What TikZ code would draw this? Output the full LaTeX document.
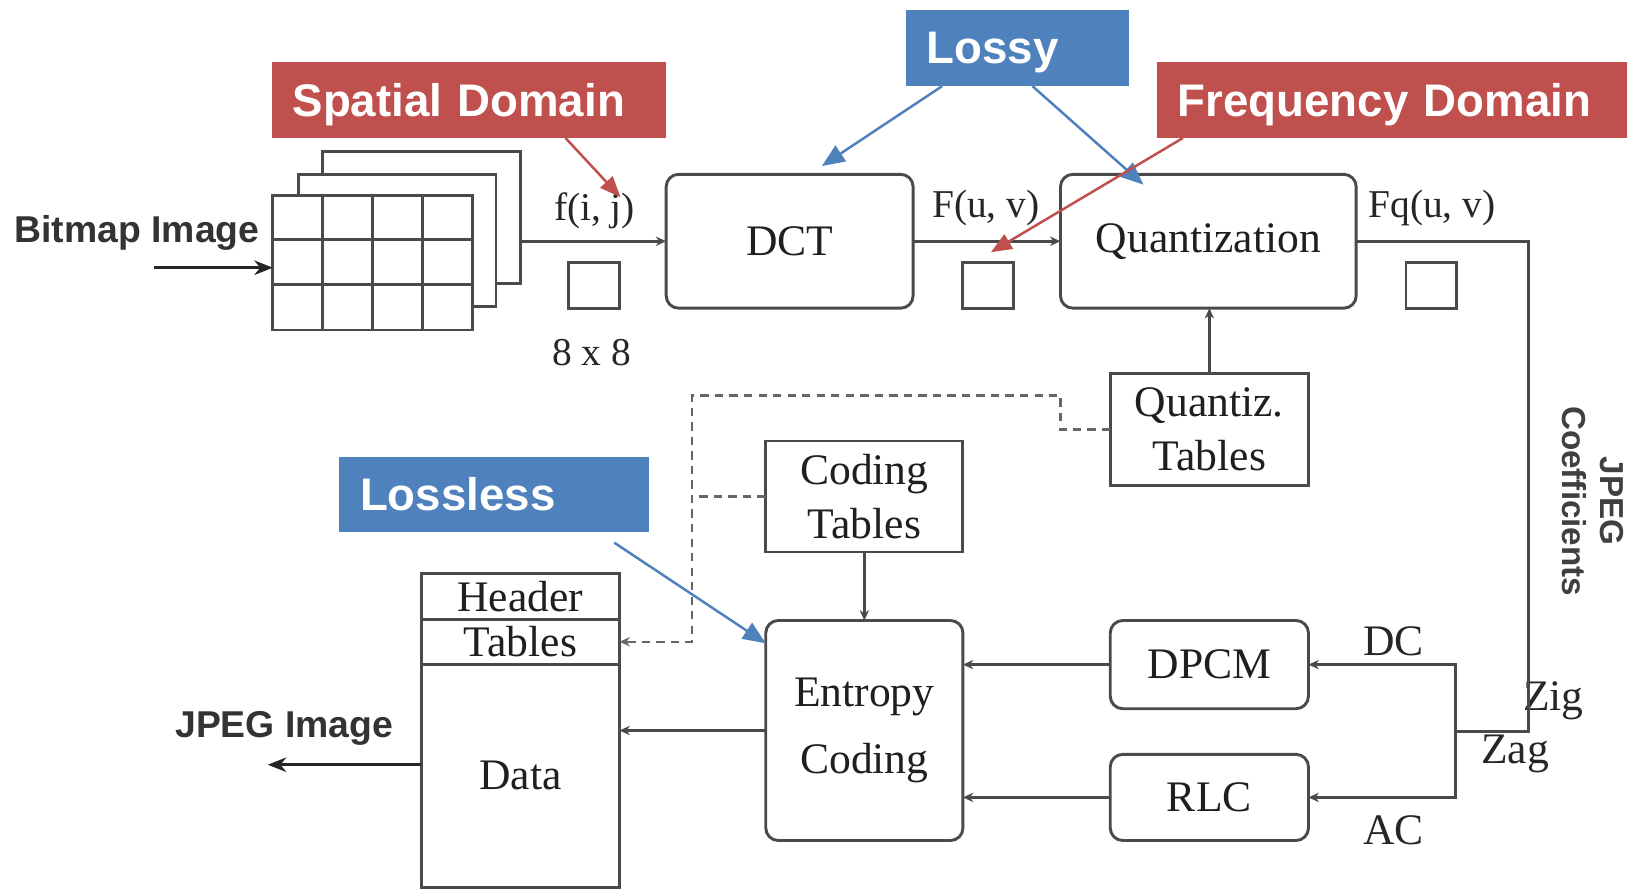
\documentclass[tikz,border=0pt]{standalone}
\usepackage{fontspec}
\setmainfont{Liberation Serif}
\newfontfamily\arialf{Liberation Sans}
\usetikzlibrary{arrows.meta,calc}
\definecolor{calred}{HTML}{C0504D}
\definecolor{calblue}{HTML}{4F81BD}
\definecolor{lin}{HTML}{4A4A4A}
\begin{document}
\begin{tikzpicture}[x=0.5pt,y=-0.5pt,
  every node/.style={inner sep=0pt, outer sep=0pt},
  blk/.style={draw=lin, line width=1.4pt, fill=white, font=\fontsize{21}{26}\selectfont, align=center, text=black!88},
  rblk/.style={blk, rounded corners=6pt},
  lbl/.style={font=\fontsize{19}{21}\selectfont, text=black!85},
  conn/.style={draw=lin, line width=1.4pt, -{Stealth[length=5pt,width=4.5pt]}},
  plain/.style={draw=lin, line width=1.4pt},
  bigarr/.style={draw=black!85, line width=1.3pt, -{Stealth[length=9pt,width=7pt]}},
  dsh/.style={draw=black!60, line width=1.2pt, dash pattern=on 4pt off 3pt},
  callout/.style={font=\arialf\bfseries\fontsize{22}{24}\selectfont, text=white, align=left, minimum height=36.5pt, inner xsep=10pt, text depth=0pt},
  redc/.style={callout, fill=calred},
  bluec/.style={callout, fill=calblue},
  redarr/.style={draw=calred, line width=1.2pt, -{Triangle[length=10pt,width=8pt]}},
  bluearr/.style={draw=calblue, line width=1.2pt, -{Triangle[length=11pt,width=9pt]}},
  sans/.style={font=\arialf\bfseries\fontsize{18}{20}\selectfont, text=black!80}
  ]
\useasboundingbox (0,0) rectangle (1568,857);

% image stack
\node[blk, minimum width=95.5pt, minimum height=63.5pt] (f3) at (406.5,209.5) {};
\node[blk, minimum width=95pt, minimum height=63.5pt] (f2) at (383,231.5) {};
\node[blk, minimum width=96pt, minimum height=65pt] (grid) at (359,253) {};
\foreach \x in {311,359,407} \draw[plain] (\x,188) -- (\x,318);
\foreach \y in {231,274} \draw[plain] (263,\y) -- (455,\y);

\node[sans, anchor=west] (bmp) at (14,224) {Bitmap Image};
\coordinate (bin) at (148,258);
\draw[bigarr] (bin) -- (bin -| grid.west);

% main blocks
\node[rblk, minimum width=119pt, minimum height=64.5pt] (dct) at (761,232.5) {DCT};
\node[rblk, minimum width=142.5pt, minimum height=64.5pt] (quant) at (1164.5,232.5) {Quantization};
\node[blk, minimum width=95.5pt, minimum height=54pt] (qtab) at (1165.5,414) {Quantiz.\\Tables};
\node[blk, minimum width=95pt, minimum height=53.5pt] (ctab) at (833,478.5) {Coding\\Tables};
\node[rblk, minimum width=95pt, minimum height=106pt, font=\fontsize{21}{32.5}\selectfont] (ent) at (833,704) {Entropy\\Coding};
\node[rblk, minimum width=95.5pt, minimum height=42.5pt] (dpcm) at (1165.5,640.5) {DPCM};
\node[rblk, minimum width=95.5pt, minimum height=41.5pt] (rlc) at (1165.5,768.5) {RLC};

% file
\node[blk, minimum width=95.5pt, minimum height=22pt] (hdr) at (501.5,575) {Header};
\node[blk, minimum width=95.5pt, minimum height=21.5pt] (tbl) at (501.5,618.5) {Tables};
\node[blk, minimum width=95.5pt, minimum height=107.5pt] (data) at (501.5,747.5) {Data};

% small squares
\node[blk, minimum width=24.5pt, minimum height=22pt] (sq1) at (572.5,275) {};
\node[blk, minimum width=24.5pt, minimum height=22pt] (sq2) at (952.5,275) {};
\node[blk, minimum width=24.5pt, minimum height=22pt] (sq3) at (1379.5,275) {};

% labels
\node[lbl] (fij) at (573,203) {f(i, j)};
\node[lbl] (n88) at (570,340) {8 x 8};
\node[lbl] (fuv) at (950,200) {F(u, v)};
\node[lbl] (fquv) at (1380,200) {Fq(u, v)};
\node[lbl, font=\fontsize{21}{23}\selectfont] (dc) at (1343,618) {DC};
\node[lbl, font=\fontsize{21}{23}\selectfont] (ac) at (1343,800) {AC};
\node[lbl, font=\fontsize{21}{23}\selectfont] (zig) at (1497,675) {Zig};
\node[lbl, font=\fontsize{21}{23}\selectfont] (zag) at (1460,727) {Zag};
\node[font=\arialf\bfseries\fontsize{16}{18}\selectfont, text=black!75, rotate=-90, align=center] (jc) at (1535,483) {JPEG\\Coefficients};
\node[sans] (jpgi) at (274,702) {JPEG Image};

% connectors
\draw[conn] (dct.west -| f3.east) -- (dct.west);
\draw[conn] (dct.east) -- (quant.west);
\coordinate (zz) at (1473,705);
\coordinate (jn) at (1403,705);
\draw[plain] (quant.east) -| (zz) -- (jn);
\draw[conn] (jn) |- (dpcm.east);
\draw[conn] (jn) |- (rlc.east);
\draw[conn] (qtab.north) -- (qtab.north |- quant.south);
\draw[conn] (ctab.south) -- (ent.north);
\draw[conn] (dpcm.west) -- (dpcm.west -| ent.east);
\draw[conn] (rlc.west) -- (rlc.west -| ent.east);
\draw[conn] (ent.west) -- (ent.west -| data.east);
\coordinate (jout) at (258,737);
\draw[bigarr] (data.west |- jout) -- (jout);

\coordinate (dA) at (1022,381);
\coordinate (dB) at (667,381);
\draw[dsh, -{Stealth[length=5pt,width=4.5pt]}] (qtab.west) -| (dA) -- (dB) |- (tbl.east);
\draw[dsh] (ctab.west) -- (ctab.west -| dB);

% callouts
\node[redc, text width=170pt] (spat) at (452,96.5) {Spatial Domain};
\node[redc, text width=206.5pt] (freq) at (1341.5,96.5) {Frequency Domain};
\node[bluec, text width=87.5pt] (lossy) at (980.5,46.5) {Lossy};
\node[bluec, text width=129pt] (lossl) at (476,476.5) {Lossless};

\coordinate (tDCT) at (792,160);
\coordinate (tQ) at (1102,178);
\coordinate (tF) at (598,190);
\coordinate (tFuv) at (955,243);
\coordinate (tE) at (738,620);
\draw[bluearr] ([xshift=17.5pt]lossy.south west) -- (tDCT);
\draw[bluearr] ([xshift=61pt]lossy.south west) -- (tQ);
\draw[redarr] ([xshift=141.5pt]spat.south west) -- (tF);
\draw[redarr] ([xshift=12.5pt]freq.south west) -- (tFuv);
\draw[bluearr] ([xshift=132.5pt,yshift=-5pt]lossl.south west) -- (tE);
\end{tikzpicture}
\end{document}
